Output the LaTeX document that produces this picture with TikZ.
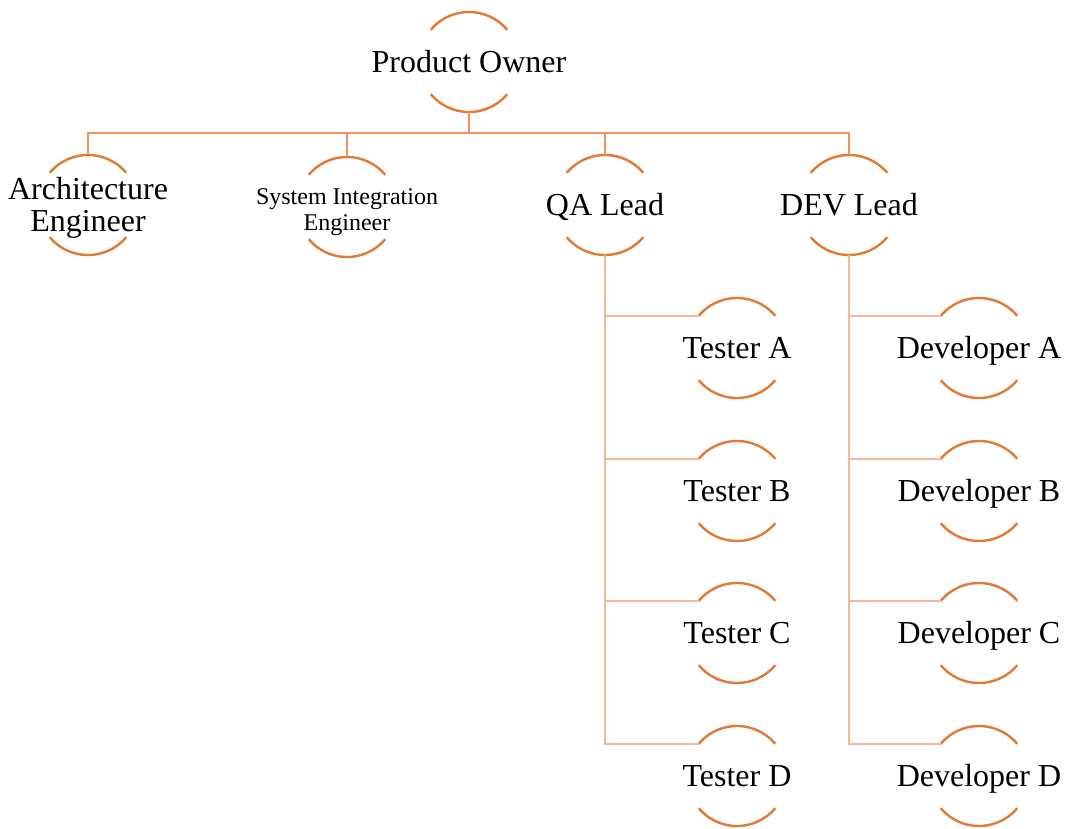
\documentclass[tikz,border=0pt]{standalone}
\usepackage{fontspec}
\setmainfont{Liberation Serif}
\definecolor{arcorange}{RGB}{224,122,52}
\definecolor{busorange}{RGB}{240,145,95}
\definecolor{subsalmon}{RGB}{246,184,157}

\tikzset{
  role/.style={circle, minimum size=75pt, inner sep=0pt, outer sep=0pt},
  bigname/.style={font=\fontsize{24}{24}\selectfont, align=center},
  onename/.style={bigname, text height=20pt, text depth=5pt},
  smallname/.style={font=\fontsize{18}{19}\selectfont, align=center},
  rolearc/.style={draw=arcorange, line width=1.8pt},
  busline/.style={draw=busorange, line width=1.5pt},
  subline/.style={draw=subsalmon, line width=1.5pt}
}
% the two arcs round a role
\newcommand{\rolearcs}[1]{%
  \draw[rolearc] (#1.140) arc[start angle=220, end angle=320, radius=50];
  \draw[rolearc] (#1.220) arc[start angle=140, end angle=40, radius=50];}

\begin{document}
\begin{tikzpicture}[x=0.75pt,y=0.75pt,yscale=-1,xscale=1]
    \useasboundingbox (0,0) rectangle (1067,828);

    % Roles
    \node[role, label={[onename]center:Product Owner}] (po) at (469,62) {};
    \node[role, label={[bigname, shift={(0,-3)}]center:{Architecture\\Engineer}}] (arch) at (88,205) {};
    \node[role, label={[smallname, shift={(0,-5)}]center:{System Integration\\Engineer}}] (sys) at (347,207) {};
    \node[role, label={[onename]center:QA Lead}] (qa) at (605,205) {};
    \node[role, label={[onename]center:DEV Lead}] (dev) at (849,205) {};
    \foreach \n/\y in {A/348,B/491,C/633,D/776} {
      \node[role, label={[onename]center:Tester \n}] (t\n) at (737,\y) {};
      \node[role, label={[onename]center:Developer \n}] (d\n) at (979,\y) {};
    }

    % Arcs
    \foreach \r in {po,arch,sys,qa,dev,tA,tB,tC,tD,dA,dB,dC,dD} {\rolearcs{\r}}

    % Bus under the product owner
    \coordinate (bus) at (469,133);
    \draw[busline] (po.south) -- (bus);
    \draw[busline] (arch.north) |- (dev.north |- bus) -- (dev.north);
    \draw[busline] (sys.north) -- (sys.north |- bus);
    \draw[busline] (qa.north) -- (qa.north |- bus);

    % Testers and developers
    \draw[subline] (qa.south) |- (tD.140);
    \draw[subline] (dev.south) |- (dD.140);
    \foreach \n in {A,B,C} {
      \draw[subline] (qa.south |- t\n.140) -- (t\n.140);
      \draw[subline] (dev.south |- d\n.140) -- (d\n.140);
    }

\end{tikzpicture}
\end{document}
